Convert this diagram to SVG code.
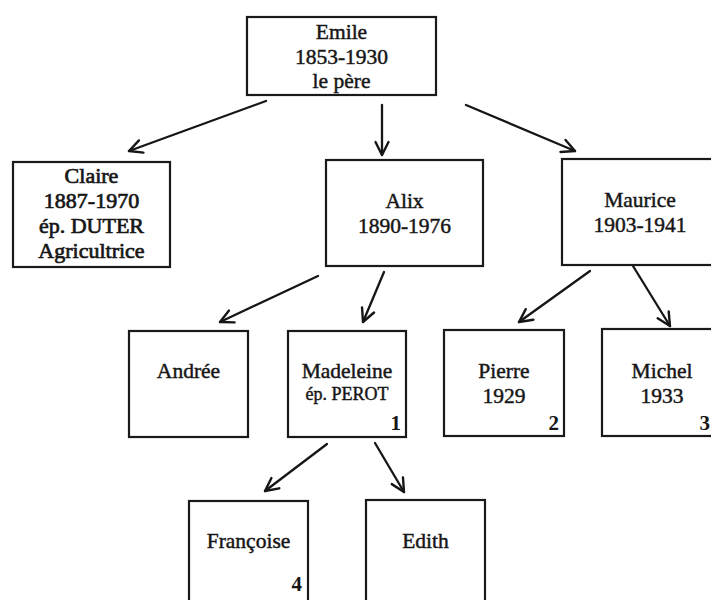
<svg xmlns="http://www.w3.org/2000/svg" width="711" height="600" viewBox="0 0 711 600">
<style>
.box{fill:#fff;stroke:#1a1a1a;stroke-width:2.2}
.t{font-family:"Liberation Serif","Times New Roman",serif;font-size:21.5px;fill:#161616;stroke:#161616;stroke-width:0.45;text-anchor:middle}
.b{font-size:22px;stroke-width:0.7}
.s{font-size:18px}
.n{font-family:"Liberation Serif","Times New Roman",serif;font-size:21px;font-weight:bold;fill:#161616;text-anchor:end}
.c{fill:none;stroke:#161616;stroke-width:2.3;stroke-linecap:round}
</style>
<defs>
<marker id="ah" markerUnits="userSpaceOnUse" markerWidth="30" markerHeight="30" refX="0" refY="0" orient="auto" overflow="visible">
<path d="M-13,-6.5 L0,0 L-13,6.5" fill="none" stroke="#161616" stroke-width="2.4" stroke-linecap="round" stroke-linejoin="round"/>
</marker>
</defs>
<rect width="711" height="600" fill="#fff"/>
<g id="connectors">
<line class="c" x1="266" y1="101" x2="129" y2="151" marker-end="url(#ah)"/>
<line class="c" x1="382" y1="105" x2="382" y2="155" marker-end="url(#ah)"/>
<line class="c" x1="466" y1="105" x2="575" y2="151" marker-end="url(#ah)"/>
<line class="c" x1="318" y1="276" x2="220" y2="322" marker-end="url(#ah)"/>
<line class="c" x1="384" y1="272" x2="363" y2="322" marker-end="url(#ah)"/>
<line class="c" x1="590" y1="271" x2="519" y2="322" marker-end="url(#ah)"/>
<line class="c" x1="633" y1="266" x2="670" y2="326" marker-end="url(#ah)"/>
<line class="c" x1="327" y1="444" x2="265" y2="491" marker-end="url(#ah)"/>
<line class="c" x1="375" y1="443" x2="404" y2="492" marker-end="url(#ah)"/>
</g>
<g id="emile">
<rect class="box" x="247" y="17" width="189" height="78"/>
<text class="t" x="341.5" y="39">Emile</text>
<text class="t" x="341.5" y="64">1853-1930</text>
<text class="t" x="341.5" y="88">le père</text>
</g>
<g id="claire">
<rect class="box" x="13" y="162" width="157" height="105"/>
<text class="t b" x="91.5" y="183">Claire</text>
<text class="t b" x="91.5" y="208">1887-1970</text>
<text class="t b" x="91.5" y="233">ép. DUTER</text>
<text class="t b" x="91.5" y="258">Agricultrice</text>
</g>
<g id="alix">
<rect class="box" x="326" y="160" width="157" height="106"/>
<text class="t" x="404.5" y="208">Alix</text>
<text class="t" x="404.5" y="233">1890-1976</text>
</g>
<g id="maurice">
<rect class="box" x="562" y="159" width="156" height="106"/>
<text class="t" x="640" y="207">Maurice</text>
<text class="t" x="640" y="232">1903-1941</text>
</g>
<g id="andree">
<rect class="box" x="129" y="331" width="119" height="106"/>
<text class="t" x="188.5" y="378">Andrée</text>
</g>
<g id="madeleine">
<rect class="box" x="288" y="331" width="118" height="106"/>
<text class="t" x="347" y="378">Madeleine</text>
<text class="t s" x="347" y="400">ép. PEROT</text>
<text class="n" x="401" y="430">1</text>
</g>
<g id="pierre">
<rect class="box" x="444" y="330" width="120" height="106"/>
<text class="t" x="504" y="378">Pierre</text>
<text class="t" x="504" y="403">1929</text>
<text class="n" x="559" y="430">2</text>
</g>
<g id="michel">
<rect class="box" x="602" y="329" width="120" height="107"/>
<text class="t" x="662" y="378">Michel</text>
<text class="t" x="662" y="403">1933</text>
<text class="n" x="710" y="430">3</text>
</g>
<g id="francoise">
<rect class="box" x="189" y="501" width="119" height="110"/>
<text class="t" x="248.5" y="548">Françoise</text>
<text class="n" x="302" y="591">4</text>
</g>
<g id="edith">
<rect class="box" x="366" y="500" width="119" height="110"/>
<text class="t" x="425.5" y="548">Edith</text>
</g>
</svg>
